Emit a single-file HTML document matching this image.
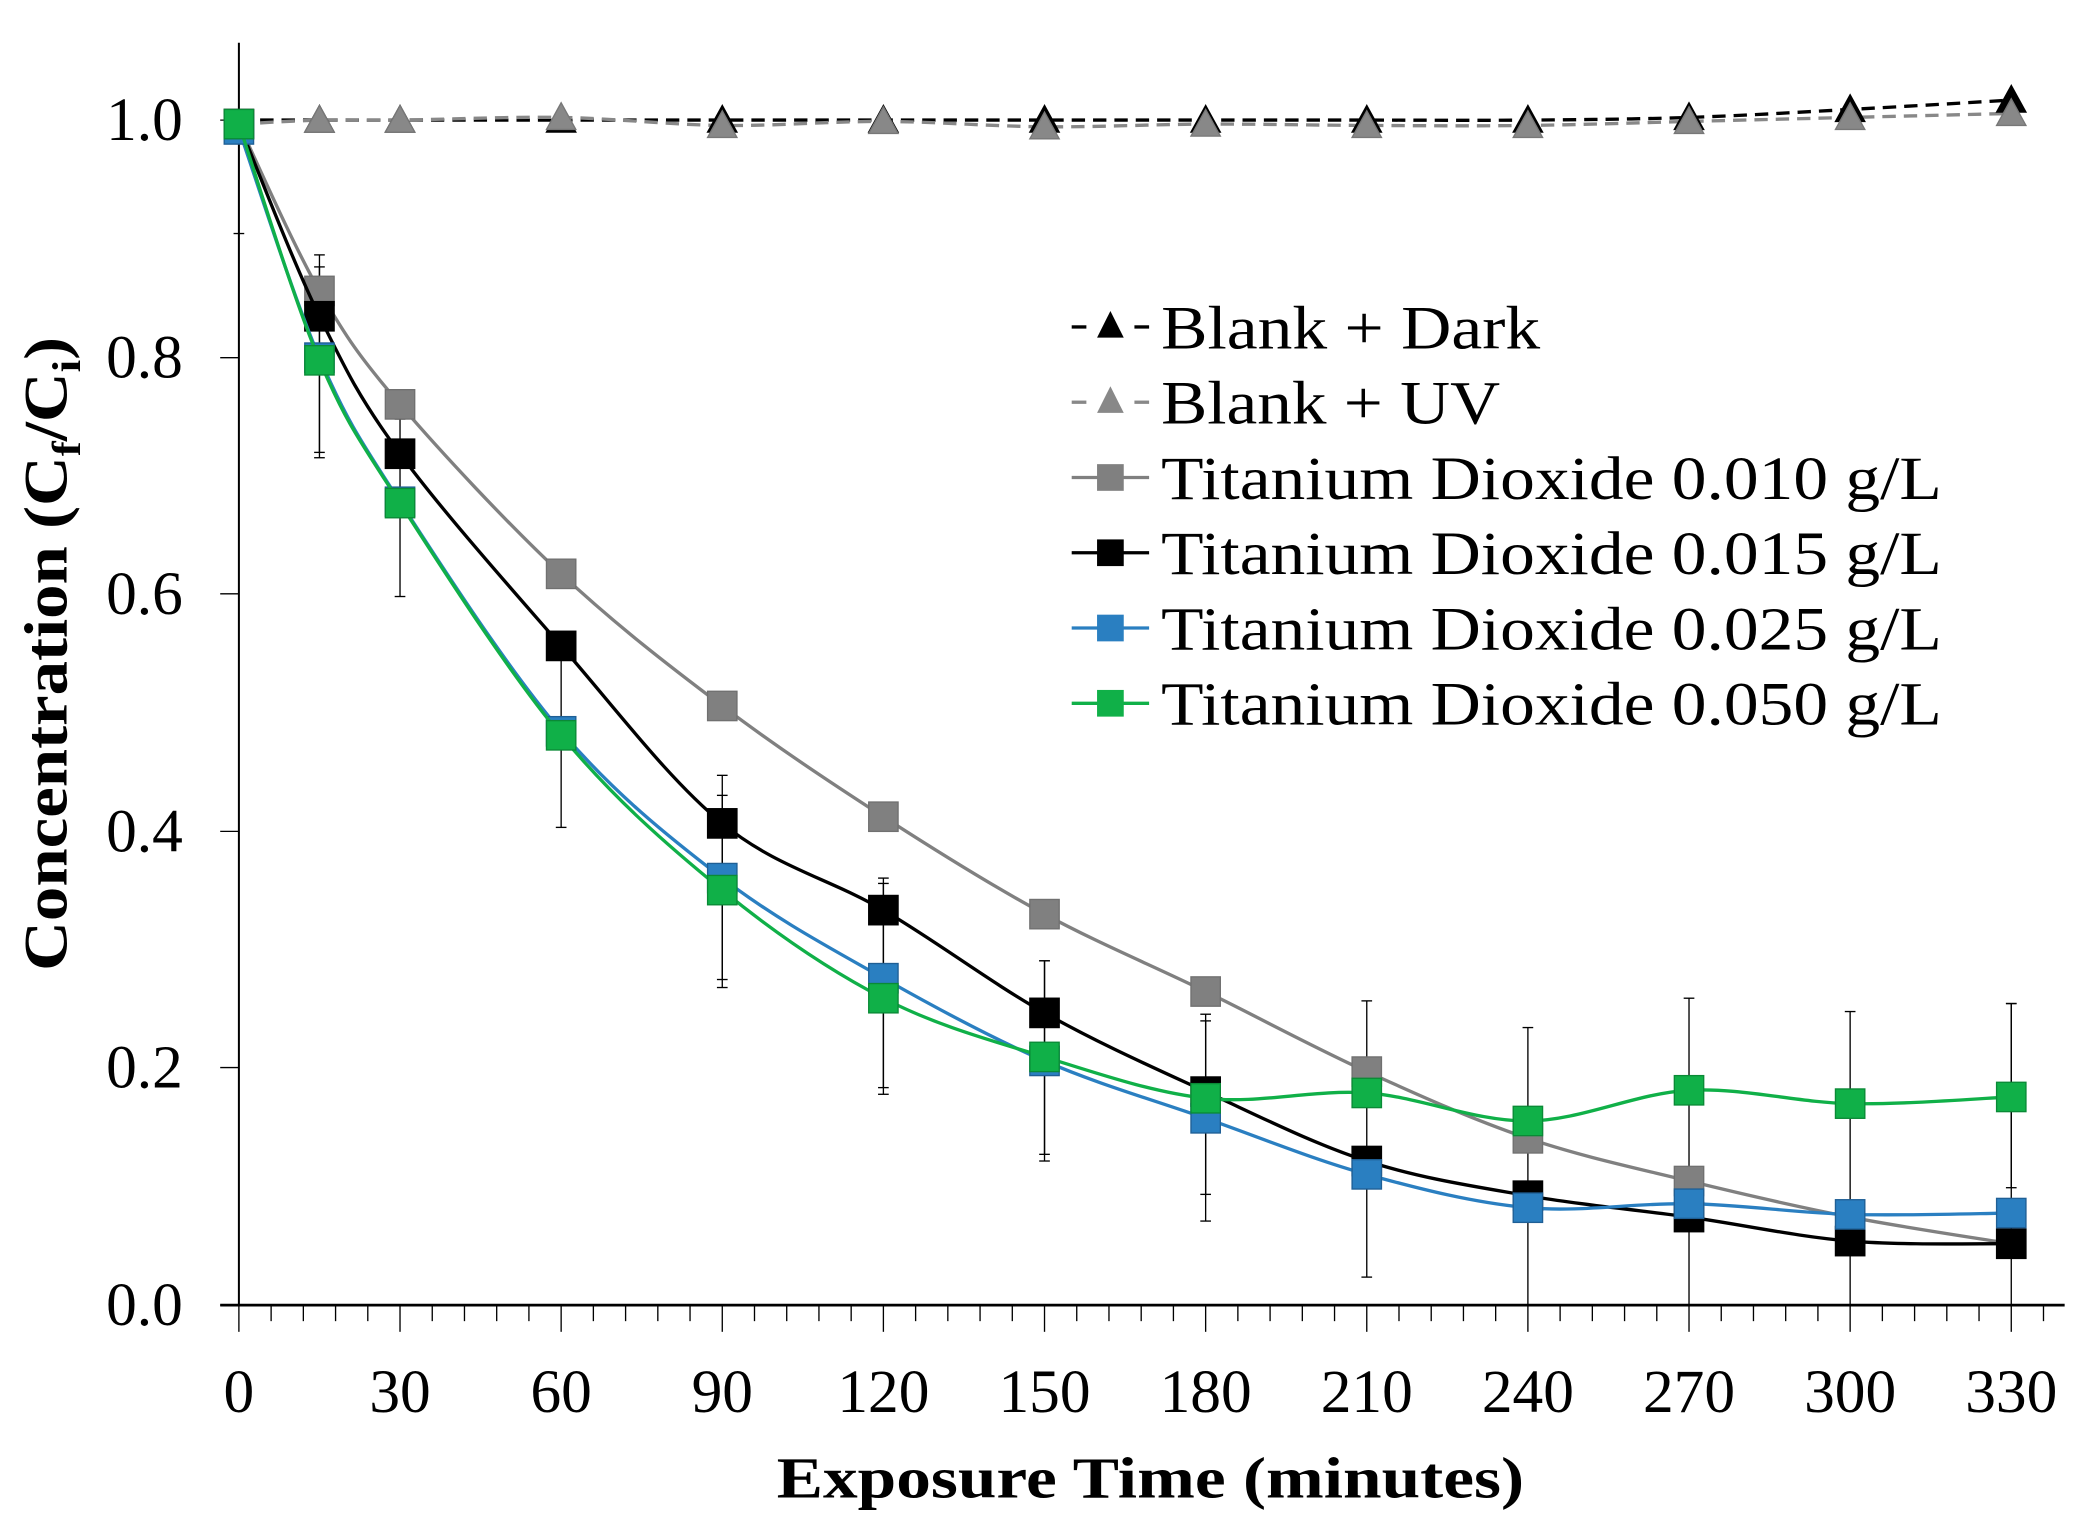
<!DOCTYPE html>
<html><head><meta charset="utf-8"><style>
html,body{margin:0;padding:0;background:#fff;}
svg{display:block;}
text{font-family:"Liberation Serif","Times New Roman",serif;}
</style></head><body>
<svg id="s" width="2082" height="1528" viewBox="0 0 1560 1145" preserveAspectRatio="none" xmlns="http://www.w3.org/2000/svg">
<rect width="1560" height="1145" fill="#fff"/>
<g id="g"></g>
</svg>
<script>
const X=m=>179+m*1328/330;
let h='';
h+='<line x1="179" y1="32" x2="179" y2="978" stroke="#000" stroke-width="1.5"/>';
h+='<line x1="165" y1="978" x2="1547" y2="978" stroke="#000" stroke-width="2"/>';
for(let m=0;m<=336;m+=6){const x=X(m);const maj=m%30==0;h+=`<line x1="${x}" y1="978" x2="${x}" y2="${maj?998:990}" stroke="#000" stroke-width="1"/>`;}
const yv=[[1.0,90],[0.8,268],[0.6,445],[0.4,623],[0.2,800],[0.0,978]];
for(const [v,y] of yv){h+=`<line x1="165" y1="${y}" x2="179" y2="${y}" stroke="#000" stroke-width="1"/>`;
h+=`<text x="137" y="${y+15}" font-size="46" text-anchor="end">${v.toFixed(1)}</text>`;}
for(let m=0;m<=330;m+=30){h+=`<text x="${X(m)}" y="1058" font-size="46" text-anchor="middle">${m}</text>`;}
h+='<text x="862" y="1122" font-size="44" font-weight="bold" text-anchor="middle" textLength="560" lengthAdjust="spacingAndGlyphs">Exposure Time (minutes)</text>';
h+='<text transform="translate(50,490) rotate(-90)" font-size="46" font-weight="bold" text-anchor="middle" textLength="475" lengthAdjust="spacingAndGlyphs">Concentration (C<tspan font-size="30" dy="10">f</tspan><tspan dy="-10">/C</tspan><tspan font-size="30" dy="10">i</tspan><tspan dy="-10">)</tspan></text>';
const eb=[[0,93,175],[15,191,343],[15,200,339],[30,314,447],[60,489,620],[90,581,734],[90,596,740],[120,658,820],[120,662,815],[150,720,870],[150,720,865],[180,760,915],[180,765,895],[210,750,957],[240,770,978],[270,748,978],[300,758,978],[330,752,978],[330,752,890]];
for(const [m,a,b] of eb){const x=X(m);h+=`<line x1="${x}" y1="${a}" x2="${x}" y2="${b}" stroke="#000" stroke-width="1"/><line x1="${x-4}" y1="${a}" x2="${x+4}" y2="${a}" stroke="#000"/><line x1="${x-4}" y1="${b}" x2="${x+4}" y2="${b}" stroke="#000"/>`;}
const T=[0,15,30,60,90,120,150,180,210,240,270,300,330];
function smooth(pts){let d=`M${pts[0][0]},${pts[0][1]}`;for(let i=0;i<pts.length-1;i++){const p0=pts[Math.max(0,i-1)],p1=pts[i],p2=pts[i+1],p3=pts[Math.min(pts.length-1,i+2)];const t=6;d+=` C${p1[0]+(p2[0]-p0[0])/t},${p1[1]+(p2[1]-p0[1])/t} ${p2[0]-(p3[0]-p1[0])/t},${p2[1]-(p3[1]-p1[1])/t} ${p2[0]},${p2[1]}`;}return d;}
const dark=[90,90,90,90,90,90,90,90,90,90,88,82,75], uv=[93,90,90,88,94,91,95,93,94,94,91,88,85];
function tri(x,y,c){return `<polygon points="${x},${y-11} ${x-11},${y+9} ${x+11},${y+9}" fill="${c}" stroke="${c==='#000'?'#000':'#777'}" stroke-width="1"/>`;}
const dp=T.map((m,i)=>[X(m),dark[i]]), up=T.map((m,i)=>[X(m),uv[i]]);
h+=`<path d="${smooth(dp)}" fill="none" stroke="#000" stroke-width="2.5" stroke-dasharray="10,6"/>`;
h+=`<path d="${smooth(up)}" fill="none" stroke="#888" stroke-width="2.5" stroke-dasharray="10,6"/>`;
dp.slice(1).forEach(p=>h+=tri(p[0],p[1],'#000'));
up.slice(1).forEach(p=>h+=tri(p[0],p[1],'#888'));
const S=[
['#808080','#707070',[93,218,303,430,529,612,685,743,803,853,885,912,932],[0,1,2,3,4,5,6,7,8,9,10]],
['#000','#000',[93,237,340,484,617,682,759,818,870,896,912,930,932],null],
['#2a7fc1','#1f5f95',[97,268,376,548,658,733,795,838,880,905,902,910,909],null],
['#10b048','#0a8a36',[93,270,377,551,667,748,792,823,819,840,817,827,822],null]];
for(const [c,sc,ys,idx] of S){const pts=T.map((m,i)=>[X(m),ys[i]]);h+=`<path d="${smooth(pts)}" fill="none" stroke="${c}" stroke-width="2.5"/>`;
pts.forEach((p,i)=>{if(idx&&!idx.includes(i))return;h+=`<rect x="${p[0]-11}" y="${p[1]-11}" width="22" height="22" fill="${c}" stroke="${sc}" stroke-width="1"/>`;});}
const L=[['tri','#000','Blank + Dark',true],['tri','#888','Blank + UV',true],['sq','#808080','Titanium Dioxide 0.010 g/L'],['sq','#000','Titanium Dioxide 0.015 g/L'],['sq','#2a7fc1','Titanium Dioxide 0.025 g/L'],['sq','#10b048','Titanium Dioxide 0.050 g/L']];
L.forEach((l,i)=>{const y=245+i*56.4;const cx=832;
if(l[0]=='tri'){h+=`<line x1="803" y1="${y}" x2="814" y2="${y}" stroke="${l[1]}" stroke-width="2.5"/><line x1="850" y1="${y}" x2="861" y2="${y}" stroke="${l[1]}" stroke-width="2.5"/>`;h+=`<polygon points="${cx},${y-12} ${cx-10},${y+8} ${cx+10},${y+8}" fill="${l[1]}"/>`;}
else{h+=`<line x1="803" y1="${y}" x2="861" y2="${y}" stroke="${l[1]}" stroke-width="2.5"/><rect x="${cx-10}" y="${y-10}" width="20" height="20" fill="${l[1]}"/>`;}
const w=l[3]?(i==0?284:254):585;
h+=`<text x="870" y="${y+16}" font-size="46" textLength="${w}" lengthAdjust="spacingAndGlyphs">${l[2]}</text>`;});
document.getElementById('g').innerHTML=h;
</script>
</body></html>
